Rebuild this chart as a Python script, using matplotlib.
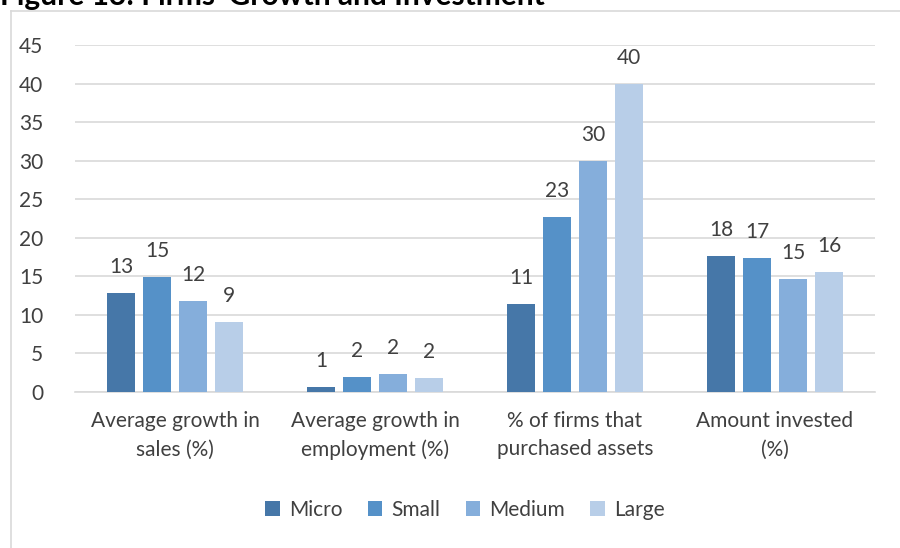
import matplotlib
matplotlib.use("Agg")
import matplotlib.pyplot as plt
from matplotlib.lines import Line2D
import numpy as np

categories = ["Average growth in\nsales (%)", "Average growth in\nemployment (%)",
              "% of firms that\npurchased assets", "Amount invested\n(%)"]
series = ["Micro", "Small", "Medium", "Large"]
micro = [12.8, 0.6, 11.4, 17.7]
small = [14.9, 1.9, 22.7, 17.4]
medium = [11.8, 2.3, 30.0, 14.7]
large = [9.1, 1.8, 40.0, 15.5]
yticks = [0, 5, 10, 15, 20, 25, 30, 35, 40, 45]
title = "Figure 13: Firms' Growth and Investment"

colors = ["#4677A8", "#5591C8", "#85AEDB", "#B8CEE8"]
font = "Lato"
txt = "#404040"
fs = 15

W, H = 900, 548
fig = plt.figure(figsize=(9, 5.48), dpi=100)
ax = fig.add_axes([75 / W, 1 - 392 / H, 800 / W, (392 - 45) / H])

x = np.arange(len(categories))
pitch, width = 0.18, 0.14
for j, (name, vals) in enumerate(zip(series, [micro, small, medium, large])):
    pos = x + (j - 1.5) * pitch
    ax.bar(pos, vals, width, color=colors[j], label=name, zorder=3)
    for p, v in zip(pos, vals):
        ax.annotate(f"{v:.0f}", (p, v), xytext=(0, 20), textcoords="offset pixels",
                    ha="center", va="baseline", fontsize=fs, color=txt, family=font)

ax.set_xlim(-0.5, 3.5)
ax.set_ylim(0, 45)
ax.set_yticks(yticks)
ax.set_yticklabels([str(t) for t in yticks], fontsize=fs, color=txt, family=font)
ax.set_xticks(x)
ax.set_xticklabels(categories, fontsize=fs, color=txt, family=font, linespacing=1.5)
ax.tick_params(axis="both", length=0)
ax.tick_params(axis="y", pad=23)
ax.tick_params(axis="x", pad=14)
ax.grid(axis="y", color="#D9D9D9", linewidth=1.2, zorder=0)
for s in ["top", "right", "left"]:
    ax.spines[s].set_visible(False)
ax.spines["bottom"].set_color("#D9D9D9")
ax.spines["bottom"].set_linewidth(1.2)

leg = fig.legend(loc="center", bbox_to_anchor=(465 / W, 1 - 510 / H), ncol=4,
                 frameon=False, prop={"family": font, "size": fs},
                 handlelength=0.7, handleheight=0.7, handletextpad=0.45,
                 columnspacing=1.2)
for t in leg.get_texts():
    t.set_color(txt)

# chart frame
fig.add_artist(Line2D([11 / W, 11 / W], [0, 1 - 11 / H], color="#D9D9D9", lw=1.2,
                      transform=fig.transFigure))
fig.add_artist(Line2D([11 / W, 1], [1 - 11 / H, 1 - 11 / H], color="#D9D9D9", lw=1.2,
                      transform=fig.transFigure))

fig.text(0 / W, 1 - 5 / H, title, fontsize=21.5, fontweight="bold", family=font,
         color="black", ha="left", va="baseline")

fig.savefig("out.png", dpi=100)
